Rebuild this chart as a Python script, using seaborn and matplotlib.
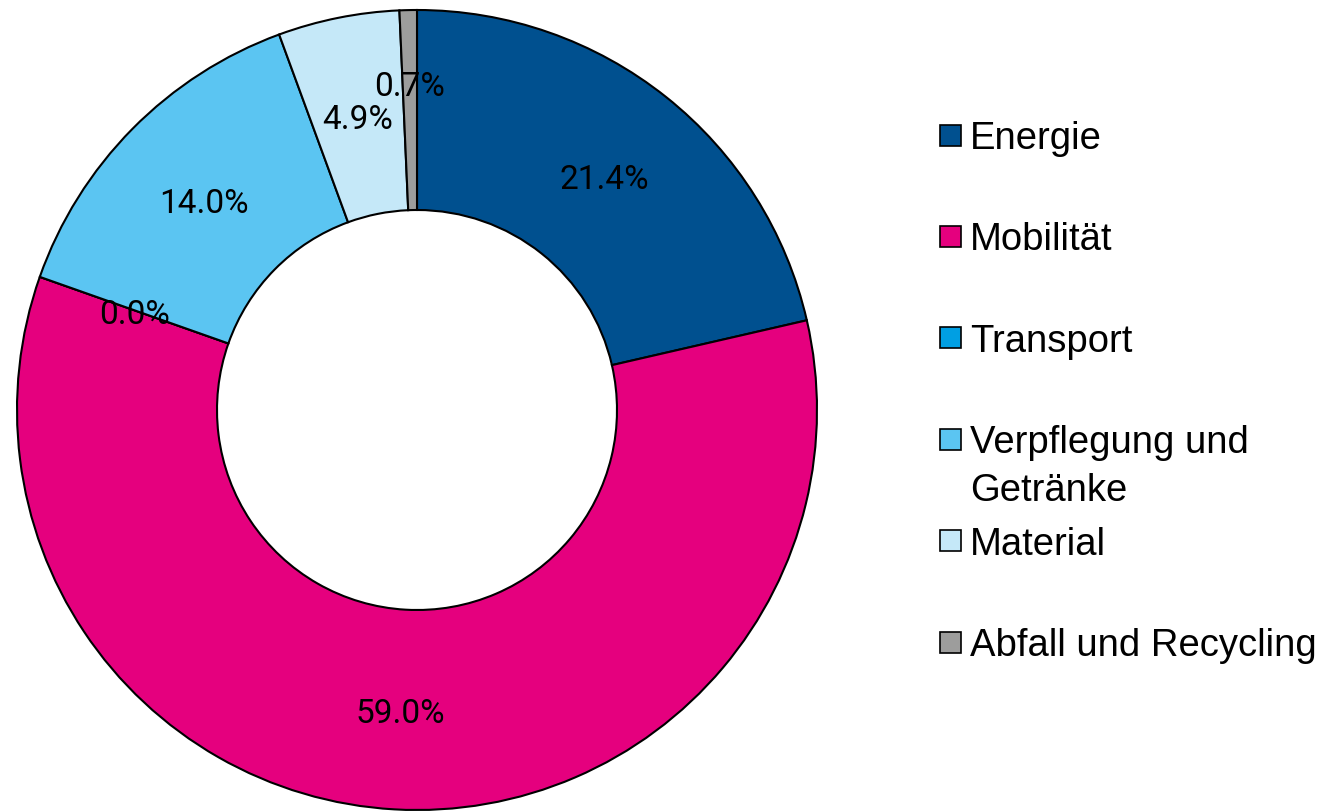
import numpy as np
import matplotlib.pyplot as plt
import seaborn as sns
from matplotlib.patches import Rectangle

sns.set_theme(style="white")
plt.rcParams['font.family'] = ['Roboto', 'DejaVu Sans']

# data
categories = ["Energie", "Mobilität", "Transport", "Verpflegung und\nGetränke",
              "Material", "Abfall und Recycling"]
shares = [21.4, 59.0, 0.0, 14.0, 4.9, 0.7]
colors = ["#00508F", "#E5007E", "#009FE3", "#5BC5F2", "#C5E8F8", "#9D9D9C"]

W, H = 1341, 812
fig = plt.figure(figsize=(W / 100, H / 100), dpi=100)
fig.patch.set_facecolor("white")

# donut axes: centre ~(417, 411) px, outer radius ~400 px
cx, cy, r = 417, 411, 400
ax = fig.add_axes([(cx - r) / W, (H - cy - r) / H, 2 * r / W, 2 * r / H])

wedges, texts, autotexts = ax.pie(
    shares, colors=colors, startangle=90, counterclock=False,
    autopct="%.1f%%", pctdistance=0.75, radius=1.0,
    wedgeprops=dict(width=0.5, edgecolor="black", linewidth=1.5),
    textprops=dict(fontsize=24, color="black"),
)
ax.set_xlim(-1, 1)
ax.set_ylim(-1, 1)
ax.set_aspect("equal")
ax.axis("off")

for t in autotexts:
    t.set_va("center_baseline")

# the tiny last slice gets its label pushed out a little
w = wedges[-1]
mid = np.deg2rad((w.theta1 + w.theta2) / 2)
autotexts[-1].set_position((0.82 * np.cos(mid), 0.82 * np.sin(mid)))

# legend, Excel style: fixed row height, text may wrap into next row
y0, step, line_h = 136, 101.4, 48
for i, (lab, col) in enumerate(zip(categories, colors)):
    yc = y0 + i * step
    fig.add_artist(Rectangle((940 / W, 1 - (yc + 10.5) / H), 21 / W, 21 / H,
                             transform=fig.transFigure, facecolor=col,
                             edgecolor="black", linewidth=1.2))
    for k, line in enumerate(lab.split("\n")):
        fig.text(970 / W, 1 - (yc + 13 + k * line_h) / H, line, fontsize=27.5,
                 family=["Liberation Sans", "DejaVu Sans"], va="baseline",
                 ha="left", color="black")

fig.savefig("out.png", dpi=100, facecolor="white")
